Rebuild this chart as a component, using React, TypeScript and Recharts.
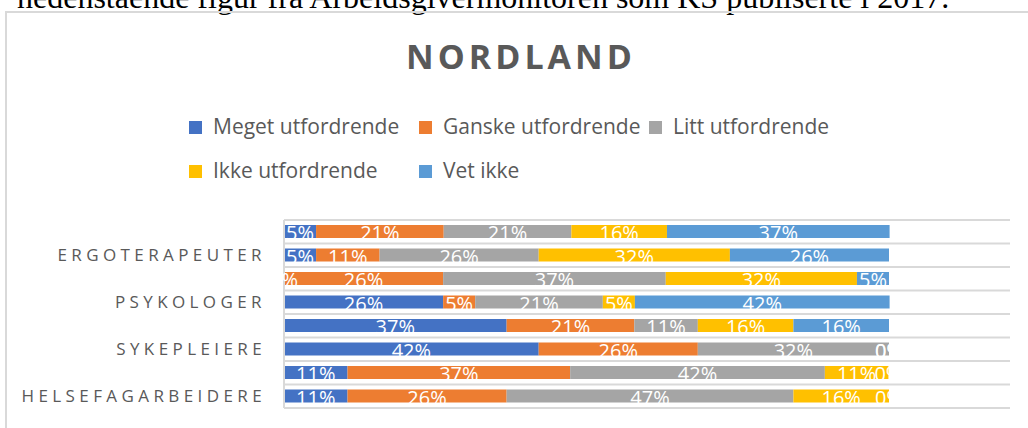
import { BarChart, Bar, XAxis, YAxis, CartesianGrid, LabelList } from 'recharts';

// rows listed bottom -> top (Excel order); only every other row has a visible label
const rowLabels = ['HELSEFAGARBEIDERE', '', 'SYKEPLEIERE', '', 'PSYKOLOGER', '', 'ERGOTERAPEUTER', ''];

const seriesNames = ['Meget utfordrende', 'Ganske utfordrende', 'Litt utfordrende', 'Ikke utfordrende', 'Vet ikke'];
const seriesColors = ['#4472C4', '#ED7D31', '#A5A5A5', '#FFC000', '#5B9BD5'];

// shares in percent (19 respondents)
const meget = [10.5, 10.5, 42.1, 36.8, 26.3, 0, 5.3, 5.3];
const ganske = [26.3, 36.8, 26.3, 21.1, 5.3, 26.3, 10.5, 21.1];
const litt = [47.4, 42.1, 31.6, 10.5, 21.1, 36.8, 26.3, 21.1];
const ikke = [15.8, 10.5, 0, 15.8, 5.3, 31.6, 31.6, 15.8];
const vetIkke = [0, 0, 0, 15.8, 42.1, 5.3, 26.3, 36.8];

const seriesValues = [meget, ganske, litt, ikke, vetIkke];
const seriesKeys = ['s0', 's1', 's2', 's3', 's4'];

const data = rowLabels.map((label, i) => {
  const row: Record<string, number | string> = { key: i, label };
  seriesKeys.forEach((k, s) => {
    row[k] = seriesValues[s][i];
  });
  return row;
});

const TEXT_GRAY = '#595959';
const GRID = '#d9d9d9';

function BarLabel(props: any) {
  const { x, y, width, height, value } = props;
  return (
    <text
      x={Number(x) + Number(width) / 2}
      y={Number(y) + Number(height) + 2}
      textAnchor="middle"
      fill="#ffffff"
      fontSize={20}
      fontFamily="'Open Sans', sans-serif"
    >
      {Math.round(Number(value))}%
    </text>
  );
}

function RowTick(props: any) {
  const { x, y, payload } = props;
  const label = rowLabels[Number(payload.value)] || '';
  return (
    <text
      x={x}
      y={y}
      dy="0.355em"
      textAnchor="end"
      fill={TEXT_GRAY}
      fontSize={17}
      letterSpacing={4.4}
      fontFamily="'Open Sans', sans-serif"
    >
      {label}
    </text>
  );
}

export default function App() {
  return (
    <div
      style={{
        position: 'absolute',
        left: 0,
        top: 0,
        width: 1028,
        height: 428,
        overflow: 'hidden',
        background: '#fff',
      }}
    >
      <svg width={1028} height={428} style={{ position: 'absolute', left: 0, top: 0 }}>
        <text x={17} y={8} fontFamily="'Liberation Serif', serif" fontSize={32} fill="#000">
          nedenstående figur fra Arbeidsgivermonitoren som KS publiserte i 2017.
        </text>
        <rect x={6} y={12} width={1100} height={500} fill="none" stroke={GRID} strokeWidth={2} />
        <text
          x={521}
          y={69}
          textAnchor="middle"
          fontFamily="'Open Sans', sans-serif"
          fontSize={34}
          fontWeight={700}
          letterSpacing={4}
          fill={TEXT_GRAY}
        >
          NORDLAND
        </text>
        {seriesNames.map((name, i) => {
          const col = i % 3;
          const line = Math.floor(i / 3);
          const left = 189 + col * 230;
          const base = 134 + line * 44;
          return (
            <g key={name}>
              <rect x={left} y={base - 13} width={13} height={13} fill={seriesColors[i]} />
              <text
                x={left + 24}
                y={base}
                fontFamily="'Open Sans', sans-serif"
                fontSize={21}
                fill={TEXT_GRAY}
              >
                {name}
              </text>
            </g>
          );
        })}
      </svg>
      <div style={{ position: 'absolute', left: 0, top: 0 }}>
        <BarChart
          width={1028}
          height={428}
          data={data}
          layout="vertical"
          margin={{ top: 220, right: 18, bottom: 20, left: 0 }}
          barCategoryGap="21.5%"
        >
          <CartesianGrid
            horizontal
            vertical={false}
            stroke={GRID}
            strokeWidth={2}
            horizontalCoordinatesGenerator={({ offset }: any) =>
              rowLabels.concat(['']).map((_, i) => offset.top + (offset.height * i) / rowLabels.length)
            }
          />
          <XAxis type="number" domain={[0, 120]} hide />
          <YAxis
            type="category"
            dataKey="key"
            reversed
            width={284}
            interval={0}
            tickSize={0}
            tickMargin={18}
            tickLine={false}
            axisLine={{ stroke: GRID, strokeWidth: 2 }}
            tick={<RowTick />}
          />
          {seriesKeys.map((k, i) => (
            <Bar
              key={k}
              dataKey={k}
              name={seriesNames[i]}
              stackId="a"
              fill={seriesColors[i]}
              minPointSize={0.01}
              isAnimationActive={false}
            >
              <LabelList dataKey={k} content={<BarLabel />} />
            </Bar>
          ))}
        </BarChart>
      </div>
    </div>
  );
}
